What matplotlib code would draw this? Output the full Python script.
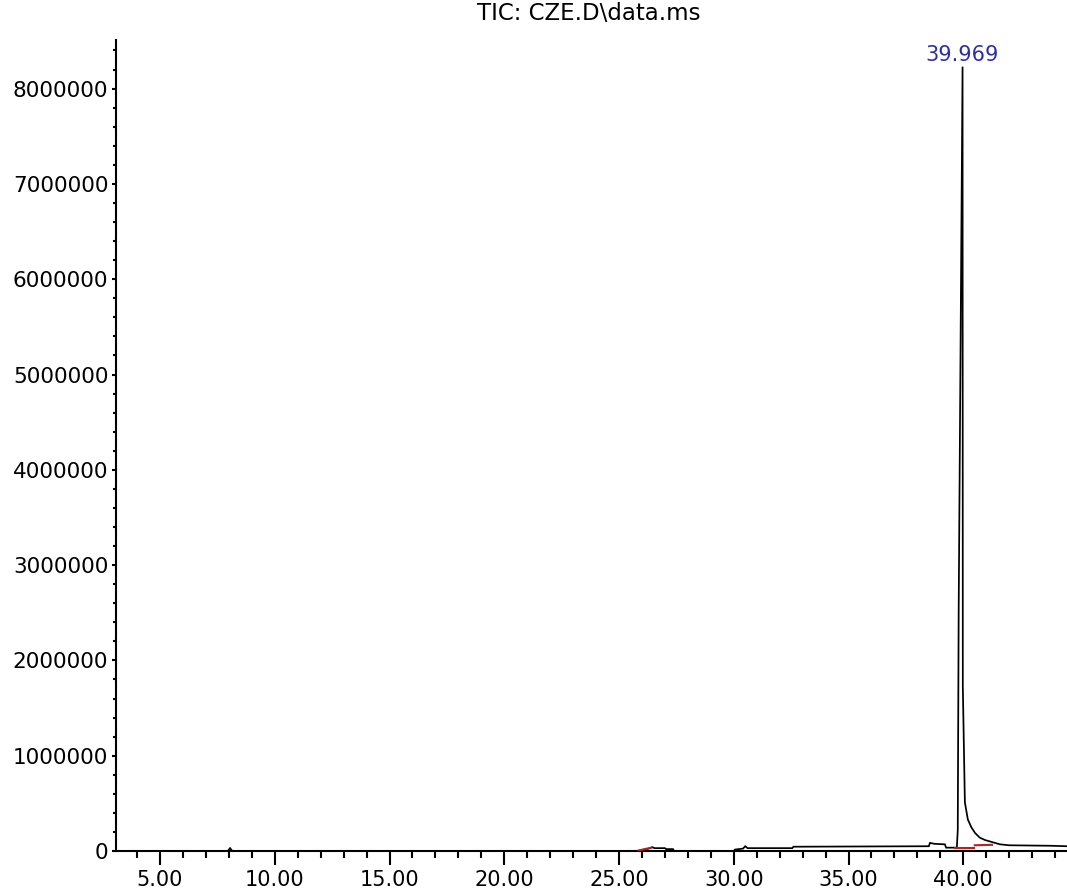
import matplotlib
matplotlib.use("Agg")
import matplotlib.pyplot as plt
from matplotlib.ticker import FixedLocator, MultipleLocator

plt.rcParams['font.family'] = ['DejaVu Sans']

# Total ion chromatogram: retention time (min) and abundance
time_min = [3.10, 7.95, 8.05, 8.15, 25.80, 26.00, 26.30, 26.45, 26.55, 27.00,
            27.05, 27.35, 27.40, 30.00, 30.05, 30.40, 30.50, 30.60, 32.55, 32.60,
            38.50, 38.55, 38.75, 39.20, 39.25, 39.72, 39.76, 39.80, 39.969, 39.98,
            40.07, 40.20, 40.35, 40.51, 40.72, 40.95, 41.38, 41.60, 42.00, 43.80,
            44.52]
abundance = [0, 0, 30000, 0, 0, 10000, 25000, 40000, 30000, 30000,
             20000, 20000, 0, 0, 15000, 25000, 50000, 30000, 30000, 45000,
             50000, 85000, 75000, 70000, 35000, 35000, 220000, 2540000, 8230000, 1730000,
             510000, 330000, 250000, 190000, 140000, 115000, 85000, 70000, 60000, 55000,
             50000]

# Integration baselines (start/end time, start/end abundance)
base_t = [[25.85, 26.40], [39.65, 40.45], [40.50, 41.25]]
base_y = [[5000, 35000], [30000, 30000], [60000, 65000]]

peak_rt = 39.969
peak_height = 8230000

y_ticks = [0, 1000000, 2000000, 3000000, 4000000, 5000000, 6000000, 7000000, 8000000]
y_labels = ["0", "1000000", "2000000", "3000000", "4000000", "5000000",
            "6000000", "7000000", "8000000"]
x_ticks = [5, 10, 15, 20, 25, 30, 35, 40]
x_labels = ["5.00", "10.00", "15.00", "20.00", "25.00", "30.00", "35.00", "40.00"]

W, H = 1067, 893
fig = plt.figure(figsize=(W / 100, H / 100), dpi=100)
ax = fig.add_axes([116 / W, (H - 851) / H, 1 - 116 / W, (851 - 40) / H])

ax.plot(time_min, abundance, color="black", lw=1.25, solid_joinstyle="miter", zorder=3)
for bt, by in zip(base_t, base_y):
    ax.plot(bt, by, color="#b22222", lw=1.5, zorder=4)

ax.annotate(f"{peak_rt:.3f}", xy=(peak_rt, peak_height), xytext=(0, 1),
            textcoords="offset points", ha="center", va="bottom",
            fontsize=15, color="#2e2ea8")

ax.set_xlim(3.08, 44.52)
ax.set_ylim(0, 8.51e6)

for s in ("top", "right"):
    ax.spines[s].set_visible(False)
for s in ("left", "bottom"):
    ax.spines[s].set_linewidth(1.5)

ax.yaxis.set_major_locator(FixedLocator(y_ticks))
ax.set_yticklabels(y_labels)
ax.yaxis.set_minor_locator(MultipleLocator(200000))
ax.xaxis.set_major_locator(FixedLocator(x_ticks))
ax.set_xticklabels(x_labels)
ax.xaxis.set_minor_locator(MultipleLocator(1))

ax.tick_params(axis="y", which="major", length=3, width=1.5, pad=2.5,
               labelsize=15.5, colors="black")
ax.tick_params(axis="y", which="minor", length=2.5, width=1.5)
ax.tick_params(axis="x", which="major", length=10, width=1.5, pad=4,
               labelsize=15, colors="black")
ax.tick_params(axis="x", which="minor", length=5, width=1.5)

fig.text((116 + W) / 2 / W - 3 / W, 1 - 13 / H, "TIC: CZE.D\\data.ms",
         ha="center", va="center", fontsize=16.5, color="black")

fig.savefig("out.png", dpi=100)
